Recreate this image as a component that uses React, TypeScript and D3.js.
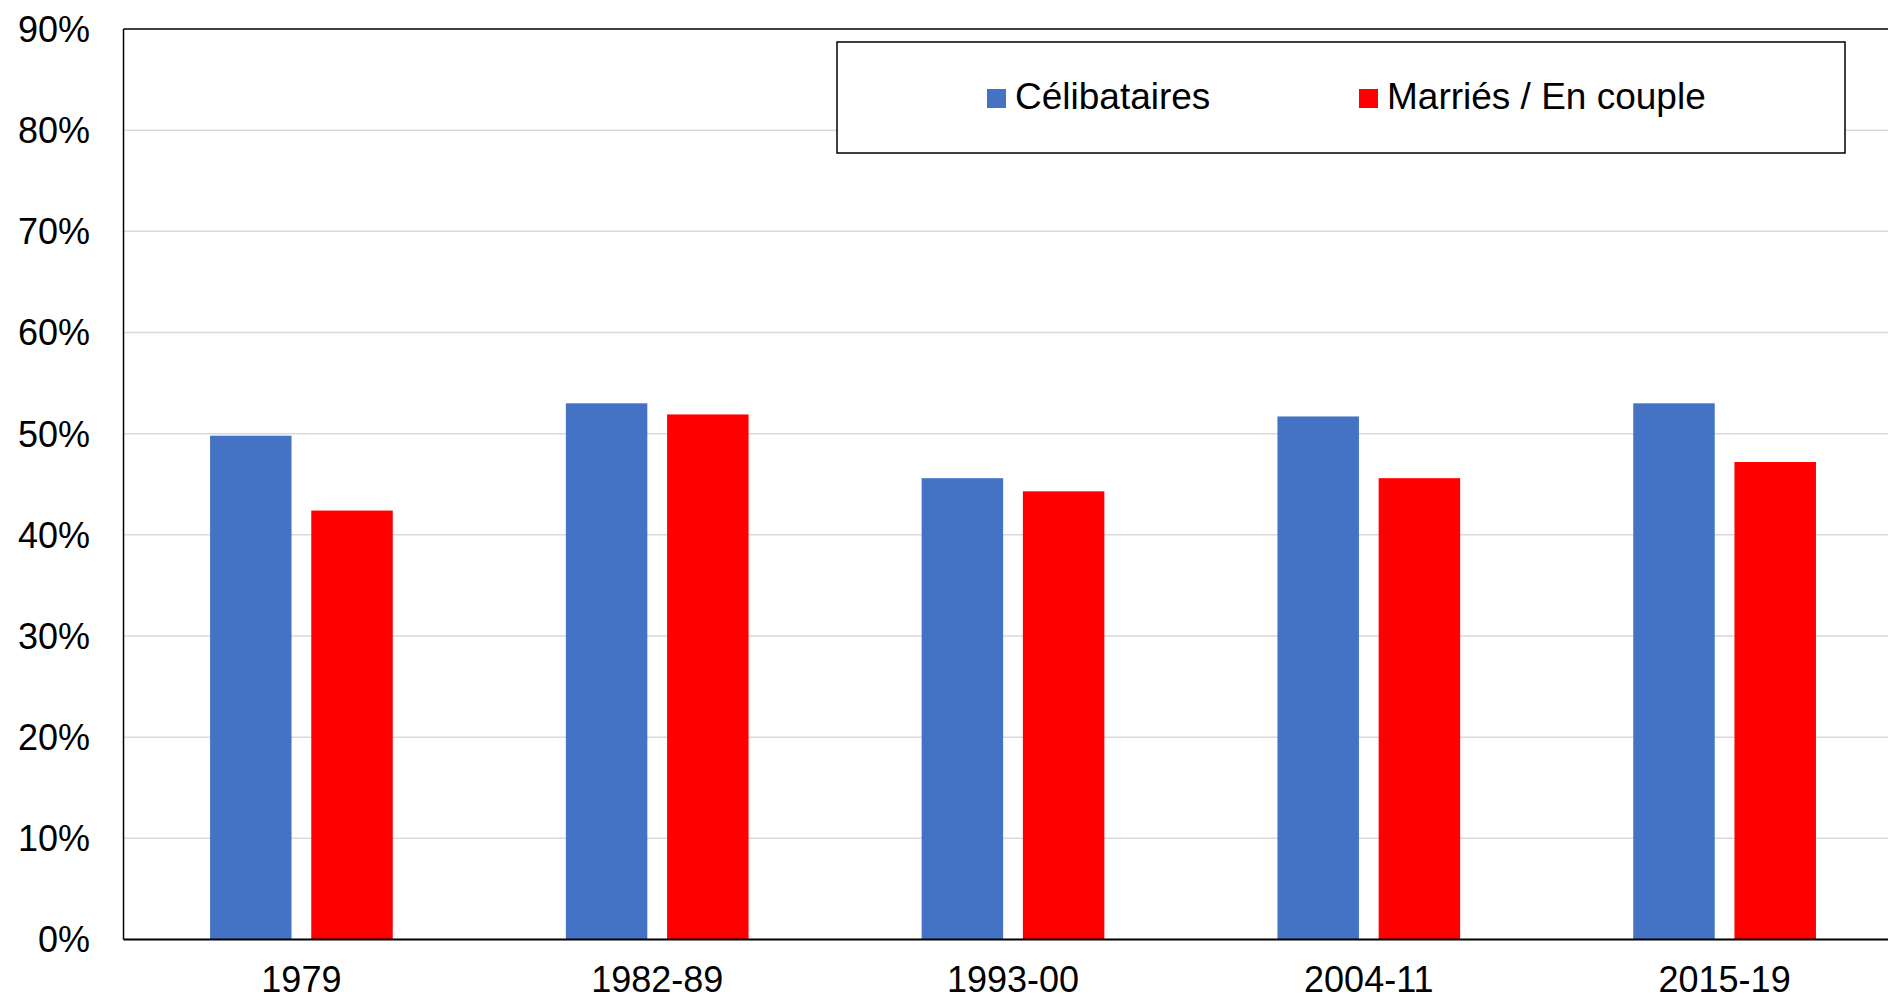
import React from "react";
import * as d3 from "d3";

const categories = ["1979", "1982-89", "1993-00", "2004-11", "2015-19"];
const seriesNames = ["Célibataires", "Marriés / En couple"];
const celibataires = [49.8, 53.0, 45.6, 51.7, 53.0];
const maries = [42.4, 51.9, 44.3, 45.6, 47.2];
const yTicks = [0, 10, 20, 30, 40, 50, 60, 70, 80, 90];
const colors = ["#4472C4", "#FF0000"];

const W = 1888;
const H = 1000;
const left = 123.5;
const top = 29;
const bottom = 939.5;
const bandW = 355.8;
const FONT = "Liberation Sans, Arial, sans-serif";

export default function App() {
  const x = d3
    .scaleBand<string>()
    .domain(categories)
    .range([left, left + bandW * categories.length])
    .paddingInner(0)
    .paddingOuter(0);
  const xs = d3
    .scaleBand<string>()
    .domain(seriesNames)
    .range([0, x.bandwidth()])
    .paddingInner(0.195)
    .paddingOuter(0.855);
  const y = d3.scaleLinear().domain([0, 90]).range([bottom, top]);
  const series = [celibataires, maries];
  const right = left + bandW * categories.length;

  return (
    <svg
      width={W}
      height={H}
      style={{ position: "absolute", left: 0, top: 0, background: "#fff" }}
      fontFamily={FONT}
    >
      <rect x={0} y={0} width={W} height={H} fill="#fff" />
      {yTicks.map((t) => (
        <g key={t}>
          {t > 0 && t < 90 && (
            <line x1={left} x2={right} y1={y(t)} y2={y(t)} stroke="#d9d9d9" strokeWidth={1.5} />
          )}
          <text x={90} y={y(t)} dy="0.36em" textAnchor="end" fontSize={36} fill="#000">
            {t}%
          </text>
        </g>
      ))}
      {categories.map((c, i) => (
        <g key={c}>
          {series.map((s, j) => (
            <rect
              key={j}
              x={(x(c) as number) + (xs(seriesNames[j]) as number)}
              y={y(s[i])}
              width={xs.bandwidth()}
              height={y(0) - y(s[i])}
              fill={colors[j]}
            />
          ))}
          <text
            x={(x(c) as number) + x.bandwidth() / 2}
            y={992}
            textAnchor="middle"
            fontSize={36}
            fill="#000"
          >
            {c}
          </text>
        </g>
      ))}
      <line x1={left} x2={right} y1={top} y2={top} stroke="#000" strokeWidth={1.5} />
      <line x1={left} x2={left} y1={top} y2={bottom} stroke="#000" strokeWidth={1.5} />
      <line x1={left} x2={right} y1={bottom} y2={bottom} stroke="#000" strokeWidth={1.8} />
      <line x1={right} x2={right} y1={top} y2={bottom} stroke="#000" strokeWidth={1.5} />
      <rect x={837} y={42} width={1008} height={111} fill="#fff" stroke="#000" strokeWidth={1.5} />
      {seriesNames.map((n, j) => {
        const sx = j === 0 ? 987 : 1359;
        return (
          <g key={n}>
            <rect x={sx} y={89} width={19} height={19} fill={colors[j]} />
            <text x={sx + 28} y={109} fontSize={37} fill="#000">
              {n}
            </text>
          </g>
        );
      })}
    </svg>
  );
}
